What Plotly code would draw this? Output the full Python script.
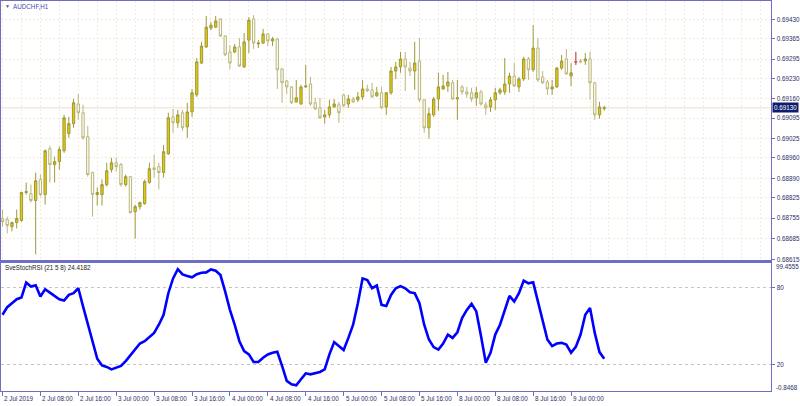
import plotly.graph_objects as go

# ---------------- data (AUDCHF, H1) ----------------
bars = list(range(128))

opens = [0.68754, 0.68750, 0.68726, 0.68740, 0.68747, 0.68842, 0.68838, 0.68815,
         0.68886, 0.68835, 0.68991, 0.68937, 0.68947, 0.68984, 0.69042, 0.69076,
         0.69143, 0.69113, 0.69032, 0.68910, 0.68835, 0.68835, 0.68869, 0.68920,
         0.68943, 0.68937, 0.68869, 0.68896, 0.68777, 0.68794, 0.68804, 0.68876,
         0.68926, 0.68930, 0.68910, 0.68974, 0.69099, 0.69079, 0.69113, 0.69065,
         0.69116, 0.69174, 0.69282, 0.69337, 0.69401, 0.69404, 0.69432, 0.69374,
         0.69320, 0.69320, 0.69337, 0.69269, 0.69360, 0.69432, 0.69347, 0.69350,
         0.69381, 0.69357, 0.69364, 0.69262, 0.69221, 0.69201, 0.69150, 0.69143,
         0.69201, 0.69211, 0.69147, 0.69130, 0.69099, 0.69106, 0.69133, 0.69140,
         0.69174, 0.69143, 0.69160, 0.69157, 0.69167, 0.69194, 0.69191, 0.69171,
         0.69181, 0.69133, 0.69181, 0.69255, 0.69269, 0.69296, 0.69265, 0.69255,
         0.69289, 0.69157, 0.69062, 0.69106, 0.69160, 0.69194, 0.69204, 0.69215,
         0.69160, 0.69201, 0.69184, 0.69181, 0.69164, 0.69184, 0.69140, 0.69133,
         0.69157, 0.69181, 0.69184, 0.69211, 0.69238, 0.69201, 0.69228, 0.69296,
         0.69259, 0.69333, 0.69235, 0.69218, 0.69194, 0.69201, 0.69265, 0.69296,
         0.69238, 0.69286, 0.69289, 0.69289, 0.69296, 0.69215, 0.69106, 0.69127]

highs = [0.68784, 0.68760, 0.68743, 0.68784, 0.68845, 0.68876, 0.68869, 0.68910,
         0.68903, 0.68988, 0.69001, 0.68964, 0.68998, 0.69106, 0.69099, 0.69160,
         0.69177, 0.69140, 0.69069, 0.68913, 0.68859, 0.68886, 0.68943, 0.68960,
         0.68960, 0.68943, 0.68903, 0.68899, 0.68801, 0.68811, 0.68886, 0.68943,
         0.68970, 0.68943, 0.69004, 0.69113, 0.69126, 0.69123, 0.69123, 0.69147,
         0.69194, 0.69299, 0.69354, 0.69442, 0.69421, 0.69442, 0.69435, 0.69377,
         0.69343, 0.69347, 0.69367, 0.69384, 0.69438, 0.69445, 0.69360, 0.69398,
         0.69384, 0.69371, 0.69367, 0.69265, 0.69225, 0.69204, 0.69225, 0.69208,
         0.69276, 0.69235, 0.69164, 0.69164, 0.69123, 0.69157, 0.69160, 0.69150,
         0.69177, 0.69174, 0.69167, 0.69184, 0.69225, 0.69208, 0.69215, 0.69201,
         0.69201, 0.69184, 0.69269, 0.69286, 0.69320, 0.69320, 0.69286, 0.69354,
         0.69367, 0.69160, 0.69130, 0.69167, 0.69249, 0.69242, 0.69252, 0.69225,
         0.69225, 0.69208, 0.69201, 0.69198, 0.69201, 0.69191, 0.69150, 0.69167,
         0.69198, 0.69198, 0.69299, 0.69249, 0.69282, 0.69235, 0.69303, 0.69303,
         0.69411, 0.69367, 0.69255, 0.69225, 0.69225, 0.69269, 0.69310, 0.69330,
         0.69282, 0.69320, 0.69296, 0.69316, 0.69320, 0.69218, 0.69150, 0.69137]

lows = [0.68726, 0.68703, 0.68710, 0.68720, 0.68743, 0.68835, 0.68808, 0.68632,
        0.68828, 0.68801, 0.68876, 0.68876, 0.68920, 0.68977, 0.69028, 0.69062,
        0.69089, 0.69021, 0.68896, 0.68760, 0.68798, 0.68798, 0.68862, 0.68910,
        0.68913, 0.68862, 0.68862, 0.68770, 0.68686, 0.68784, 0.68801, 0.68872,
        0.68893, 0.68852, 0.68893, 0.68970, 0.69045, 0.69062, 0.69052, 0.69028,
        0.69099, 0.69167, 0.69279, 0.69333, 0.69394, 0.69401, 0.69371, 0.69306,
        0.69262, 0.69316, 0.69269, 0.69265, 0.69316, 0.69330, 0.69333, 0.69347,
        0.69340, 0.69340, 0.69194, 0.69147, 0.69177, 0.69143, 0.69147, 0.69140,
        0.69198, 0.69137, 0.69123, 0.69093, 0.69076, 0.69096, 0.69130, 0.69079,
        0.69133, 0.69130, 0.69147, 0.69150, 0.69157, 0.69184, 0.69164, 0.69167,
        0.69126, 0.69106, 0.69174, 0.69228, 0.69249, 0.69187, 0.69238, 0.69191,
        0.69150, 0.69045, 0.69025, 0.69099, 0.69120, 0.69191, 0.69184, 0.69157,
        0.69089, 0.69174, 0.69164, 0.69150, 0.69137, 0.69137, 0.69106, 0.69116,
        0.69123, 0.69174, 0.69174, 0.69181, 0.69201, 0.69184, 0.69221, 0.69225,
        0.69252, 0.69218, 0.69211, 0.69174, 0.69174, 0.69198, 0.69259, 0.69242,
        0.69204, 0.69276, 0.69282, 0.69276, 0.69157, 0.69089, 0.69093, 0.69120]

closes = [0.68743, 0.68730, 0.68740, 0.68754, 0.68842, 0.68845, 0.68815, 0.68882,
          0.68835, 0.68984, 0.68937, 0.68947, 0.68988, 0.69096, 0.69076, 0.69147,
          0.69113, 0.69028, 0.68903, 0.68835, 0.68842, 0.68869, 0.68916, 0.68943,
          0.68930, 0.68869, 0.68896, 0.68774, 0.68794, 0.68808, 0.68879, 0.68923,
          0.68920, 0.68910, 0.68981, 0.69096, 0.69079, 0.69106, 0.69062, 0.69116,
          0.69181, 0.69286, 0.69340, 0.69404, 0.69411, 0.69425, 0.69374, 0.69310,
          0.69282, 0.69337, 0.69272, 0.69354, 0.69428, 0.69350, 0.69350, 0.69381,
          0.69357, 0.69364, 0.69259, 0.69215, 0.69201, 0.69147, 0.69164, 0.69201,
          0.69204, 0.69143, 0.69126, 0.69096, 0.69106, 0.69133, 0.69143, 0.69113,
          0.69137, 0.69160, 0.69150, 0.69167, 0.69194, 0.69188, 0.69167, 0.69181,
          0.69130, 0.69181, 0.69255, 0.69269, 0.69296, 0.69269, 0.69255, 0.69282,
          0.69157, 0.69062, 0.69110, 0.69160, 0.69201, 0.69204, 0.69218, 0.69160,
          0.69164, 0.69184, 0.69177, 0.69160, 0.69181, 0.69143, 0.69130, 0.69157,
          0.69181, 0.69191, 0.69211, 0.69238, 0.69204, 0.69228, 0.69296, 0.69259,
          0.69333, 0.69225, 0.69215, 0.69194, 0.69201, 0.69265, 0.69289, 0.69245,
          0.69249, 0.69286, 0.69286, 0.69296, 0.69215, 0.69106, 0.69133, 0.69130]

stoch_rsi = [58.8, 64.7, 67.8, 70.9, 72.2, 83.9, 80.8, 81.8,
             73.0, 78.7, 76.1, 73.5, 70.9, 69.9, 74.3, 75.6,
             79.5, 65.3, 51.0, 36.8, 24.4, 19.2, 18.0, 16.1,
             17.4, 18.8, 22.6, 27.0, 31.6, 36.3, 38.1, 41.2,
             44.6, 51.0, 58.8, 75.6, 87.2, 94.4, 90.3, 89.0,
             88.0, 90.5, 91.6, 91.9, 94.2, 93.2, 89.8, 76.9,
             62.6, 51.0, 38.1, 30.4, 27.8, 21.9, 21.9, 25.2,
             27.8, 29.1, 29.8, 18.8, 7.1, 4.5, 3.7, 8.4,
             13.0, 12.2, 13.0, 14.1, 16.1, 27.8, 37.4, 34.3,
             31.2, 40.7, 51.0, 67.8, 87.2, 85.9, 79.5, 81.6,
             66.5, 65.7, 74.3, 79.5, 81.2, 79.5, 76.4, 75.6,
             67.8, 51.0, 39.4, 33.5, 31.6, 36.3, 43.3, 40.7,
             45.1, 56.2, 62.6, 67.3, 61.4, 42.0, 21.3, 29.1,
             43.3, 51.0, 63.2, 73.5, 69.1, 75.6, 85.4, 83.3,
             84.1, 69.1, 54.9, 39.4, 34.3, 36.3, 36.8, 35.5,
             29.1, 33.7, 43.3, 58.8, 64.0, 44.6, 29.6, 24.4182]

time_tick_bars = [0, 8, 16, 24, 32, 40, 48, 56, 64, 72, 80, 88, 96, 104, 112, 120]
time_tick_labels = ["2 Jul 2019", "2 Jul 08:00", "2 Jul 16:00", "3 Jul 00:00",
                    "3 Jul 08:00", "3 Jul 16:00", "4 Jul 00:00", "4 Jul 08:00",
                    "4 Jul 16:00", "5 Jul 00:00", "5 Jul 08:00", "5 Jul 16:00",
                    "8 Jul 00:00", "8 Jul 08:00", "8 Jul 16:00", "9 Jul 00:00"]

price_ticks = [0.69430, 0.69365, 0.69295, 0.69230, 0.69160, 0.69095, 0.69025,
               0.68960, 0.68890, 0.68825, 0.68755, 0.68685, 0.68615]
price_range = [0.68612, 0.69493]
stoch_range = [-0.8468, 99.4555]
stoch_levels = [80, 20]
bid_price = closes[-1]

# ---------------- styling ----------------
W, H = 800, 406
FONT = "Liberation Sans"
BORDER = "#6E6EC4"
TXT = "#2E2E66"
GRID = "#F5E9DA"
BULL_FILL, BULL_LINE = "#EAC600", "#9C9A3C"
BEAR_FILL, BEAR_LINE = "#FBFBF1", "#B9B67A"
FS = 6.3


def fy(py):
    return 1 - py / H


x_left = -(2.5 - 1) / 4.75
x_right = x_left + 772 / 4.75
xdom = [1 / W, 773 / W]

fig = go.Figure()

fig.add_trace(go.Candlestick(
    x=bars, open=opens, high=highs, low=lows, close=closes,
    increasing=dict(fillcolor=BULL_FILL, line=dict(color=BULL_LINE, width=1)),
    decreasing=dict(fillcolor=BEAR_FILL, line=dict(color=BEAR_LINE, width=1)),
    whiskerwidth=0, xaxis="x", yaxis="y", hoverinfo="skip", showlegend=False))

# doji bars (open == close) drawn in red as in the terminal
dx, dy = [], []
for i in bars:
    if opens[i] == closes[i]:
        dx += [i, i, None, i - 0.35, i + 0.35, None]
        dy += [highs[i], lows[i], None, opens[i], opens[i], None]
if dx:
    fig.add_trace(go.Scatter(x=dx, y=dy, mode="lines", line=dict(color="#E0506A", width=1),
                             xaxis="x", yaxis="y", hoverinfo="skip", showlegend=False))

fig.add_trace(go.Scatter(x=bars, y=stoch_rsi, mode="lines",
                         line=dict(color="#0000FF", width=2.6),
                         xaxis="x2", yaxis="y2", hoverinfo="skip", showlegend=False))

axis_common = dict(showline=True, mirror=True, linecolor=BORDER, linewidth=1.3, zeroline=False)

fig.update_layout(
    width=W, height=H, margin=dict(l=0, r=0, t=0, b=0),
    paper_bgcolor="white", plot_bgcolor="white", showlegend=False,
    font=dict(family=FONT, size=FS, color=TXT),
    xaxis=dict(domain=xdom, anchor="y", range=[x_left, x_right],
               rangeslider=dict(visible=False), tickmode="array",
               tickvals=list(range(0, 163, 4)), showticklabels=False, ticks="",
               showgrid=True, gridcolor=GRID, griddash="2px,2px", gridwidth=1,
               **axis_common),
    yaxis=dict(domain=[fy(261.5), fy(1)], range=price_range, side="right",
               tickmode="array", tickvals=price_ticks,
               ticktext=[f"{v:.5f}" for v in price_ticks],
               ticks="outside", ticklen=3, tickcolor=BORDER,
               tickfont=dict(size=FS, color=TXT, family=FONT),
               showgrid=True, gridcolor=GRID, griddash="2px,2px", gridwidth=1,
               **axis_common),
    xaxis2=dict(domain=xdom, anchor="y2", matches="x", range=[x_left, x_right],
                tickmode="array", tickvals=time_tick_bars, showticklabels=False,
                ticks="outside", ticklen=4, tickcolor=BORDER, showgrid=False,
                **axis_common),
    yaxis2=dict(domain=[fy(393), fy(264)], range=stoch_range, side="right",
                tickmode="array", tickvals=stoch_levels,
                ticktext=[str(v) for v in stoch_levels],
                ticks="outside", ticklen=3, tickcolor=BORDER,
                tickfont=dict(size=FS, color=TXT, family=FONT),
                showgrid=True, gridcolor="#C4C4C4", griddash="3px,3px", gridwidth=1,
                **axis_common),
)

# bid line
fig.add_shape(type="line", xref="paper", yref="y", x0=xdom[0], x1=xdom[1],
              y0=bid_price, y1=bid_price, line=dict(color="#F2DCC6", width=1), layer="below")

ann = []
ann.append(dict(text="▼", x=3 / W, y=fy(6.5), xref="paper", yref="paper",
                xanchor="left", yanchor="middle", showarrow=False,
                font=dict(size=5, color="#4B4BB8", family=FONT)))
ann.append(dict(text="AUDCHF,H1", x=11 / W, y=fy(6.5), xref="paper", yref="paper",
                xanchor="left", yanchor="middle", showarrow=False,
                font=dict(size=FS, color="#4B4BB8", family=FONT)))
ann.append(dict(text=f"SveStochRSI (21 5 8) {stoch_rsi[-1]:.4f}", x=3 / W, y=fy(269.5),
                xref="paper", yref="paper", xanchor="left", yanchor="middle",
                showarrow=False, font=dict(size=FS, color="#222222", family=FONT)))
ann.append(dict(text=f"{bid_price:.5f}", x=774 / W, y=bid_price, xref="paper", yref="y",
                xanchor="left", yanchor="middle", showarrow=False, bgcolor="#0D1C6C",
                borderpad=1, font=dict(size=FS, color="white", family=FONT)))
ann.append(dict(text=f"{stoch_range[1]:.4f}", x=776 / W, y=fy(268), xref="paper", yref="paper",
                xanchor="left", yanchor="middle", showarrow=False,
                font=dict(size=FS, color=TXT, family=FONT)))
ann.append(dict(text=f"{stoch_range[0]:.4f}", x=776 / W, y=fy(389), xref="paper", yref="paper",
                xanchor="left", yanchor="middle", showarrow=False,
                font=dict(size=FS, color=TXT, family=FONT)))
for b, t in zip(time_tick_bars, time_tick_labels):
    ann.append(dict(text=t, x=b, y=fy(400), xref="x2", yref="paper",
                    xanchor="left", yanchor="middle", xshift=0, showarrow=False,
                    font=dict(size=FS, color=TXT, family=FONT)))
fig.update_layout(annotations=ann)

fig.write_html(
    "out.html",
    config={"displayModeBar": False, "staticPlot": True},
    post_script="document.body.style.margin='0';document.body.style.padding='0';"
                "document.body.style.overflow='hidden';",
)
